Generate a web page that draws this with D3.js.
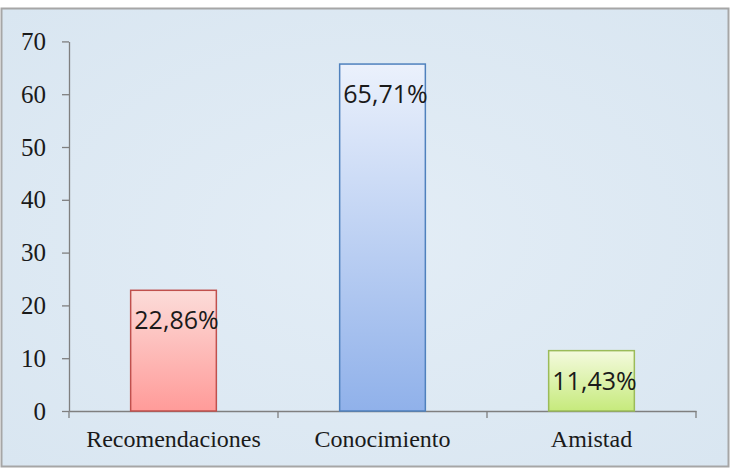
<!DOCTYPE html>
<html><head><meta charset="utf-8">
<script src="https://cdn.jsdelivr.net/npm/d3@7/dist/d3.min.js"></script>
<style>body{margin:0;background:#fff;}svg{display:block;}</style>
</head><body>
<svg id="c" width="731" height="469"></svg>
<script>
const categories = ["Recomendaciones", "Conocimiento", "Amistad"];
const values = [22.86, 65.71, 11.43];
const labels = ["22,86%", "65,71%", "11,43%"];
const yTicks = [0, 10, 20, 30, 40, 50, 60, 70];
const gradTop = ["#fcdcd9", "#ebf1fc", "#f4fade"];
const gradBottom = ["#ff9b99", "#90b1ea", "#c6ea7c"];
const strokes = ["#c0504d", "#4f81bd", "#9bbb59"];

const svg = d3.select("#c");
const defs = svg.append("defs");
const bg = defs.append("radialGradient").attr("id","bg").attr("cx","50%").attr("cy","50%").attr("r","70%");
bg.append("stop").attr("offset","0%").attr("stop-color","#e3edf6");
bg.append("stop").attr("offset","100%").attr("stop-color","#d9e6f1");
categories.forEach((c,i)=>{
  const g = defs.append("linearGradient").attr("id","g"+i).attr("x1",0).attr("y1",0).attr("x2",0).attr("y2",1);
  g.append("stop").attr("offset","0%").attr("stop-color",gradTop[i]);
  g.append("stop").attr("offset","100%").attr("stop-color",gradBottom[i]);
});

svg.append("rect").attr("x",1.5).attr("y",8.5).attr("width",727).attr("height",458)
  .attr("fill","url(#bg)").attr("stroke","#a6a6a6").attr("stroke-width",2);

const x = d3.scaleBand().domain(categories).range([69, 696]).paddingInner(0.59).paddingOuter(0.295);
const y = d3.scaleLinear().domain([0,70]).range([411, 41.4]);
const serif = "'Liberation Serif', 'DejaVu Serif', serif";

// y axis
const ya = svg.append("g").attr("transform","translate(69,0)")
  .call(d3.axisLeft(y).tickValues(yTicks).tickSize(7).tickSizeOuter(0).tickPadding(16));
ya.select(".domain").attr("stroke","#7f7f7f").attr("stroke-width",1.3);
ya.selectAll(".tick line").attr("stroke","#7f7f7f").attr("stroke-width",1.3);
ya.selectAll("text").attr("font-family",serif).attr("font-size",25).attr("fill","#1a1a1a");

// x axis
const xa = svg.append("g").attr("transform","translate(0,411)")
  .call(d3.axisBottom(x).tickSize(0).tickSizeOuter(0).tickPadding(19));
xa.select(".domain").attr("stroke","#7f7f7f").attr("stroke-width",1.3);
xa.selectAll("text").attr("font-family",serif).attr("font-size",24).attr("fill","#1a1a1a");
const xb = d3.scaleLinear().domain([0,3]).range([69,696]);
svg.append("g").selectAll("line").data([0,1,2,3]).join("line")
  .attr("x1",d=>xb(d)).attr("x2",d=>xb(d)).attr("y1",411).attr("y2",418)
  .attr("stroke","#7f7f7f").attr("stroke-width",1.3);

// bars
svg.append("g").selectAll("rect").data(values).join("rect")
  .attr("x",(d,i)=>x(categories[i])).attr("y",d=>y(d))
  .attr("width",x.bandwidth()).attr("height",d=>y(0)-y(d))
  .attr("fill",(d,i)=>"url(#g"+i+")").attr("stroke",(d,i)=>strokes[i]).attr("stroke-width",1.5);

// labels
svg.append("g").selectAll("text").data(values).join("text")
  .attr("x",(d,i)=>x(categories[i])+x.bandwidth()/2+3).attr("y",d=>y(d)+39)
  .attr("text-anchor","middle")
  .attr("font-family","'Open Sans', 'Noto Sans', sans-serif").attr("font-size",25)
  .attr("fill","#1a1a1a").text((d,i)=>labels[i]);
</script>
</body></html>
